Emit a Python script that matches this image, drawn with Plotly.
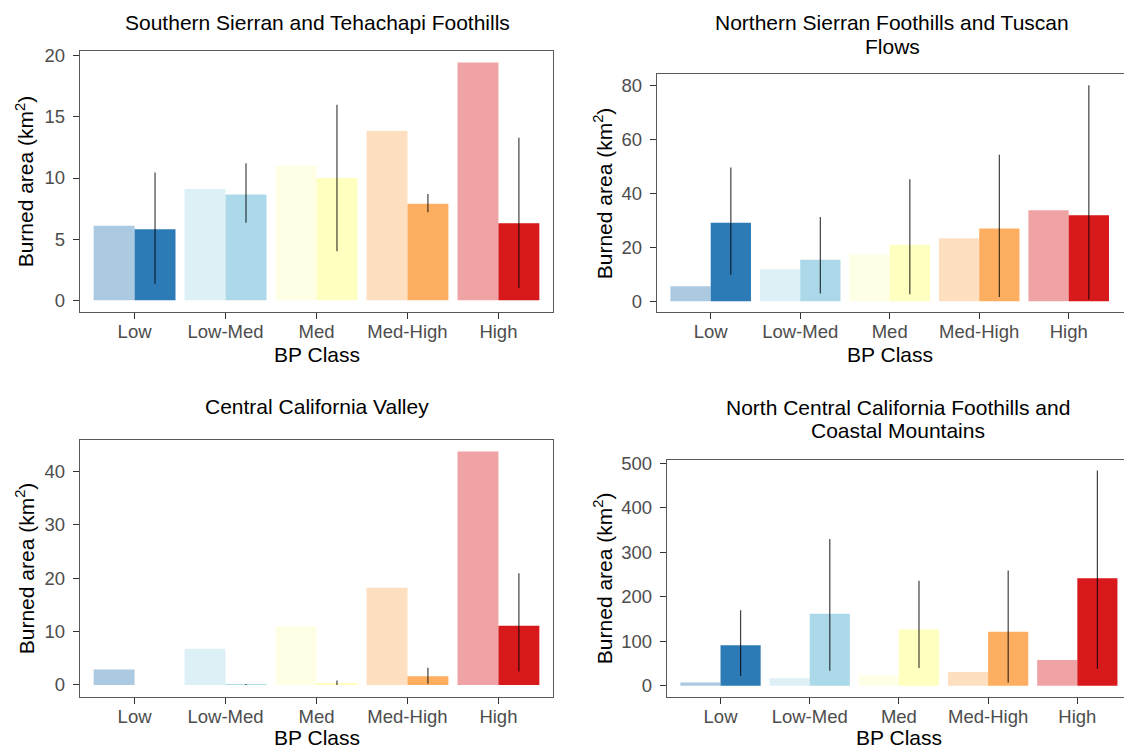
import plotly.graph_objects as go

categories = ["Low", "Low-Med", "Med", "Med-High", "High"]
base_colors = ["#2C7BB6", "#ABD9E9", "#FFFFBF", "#FDAE61", "#D7191C"]
light_alpha = 0.4

titles = [
    ["Southern Sierran and Tehachapi Foothills"],
    ["Northern Sierran Foothills and Tuscan", "Flows"],
    ["Central California Valley"],
    ["North Central California Foothills and", "Coastal Mountains"],
]

# Southern Sierran and Tehachapi Foothills
ss_light = [6.1, 9.1, 11.0, 13.85, 19.45]
ss_dark = [5.8, 8.65, 10.0, 7.9, 6.3]
ss_err_hi = [10.45, 11.2, 16.0, 8.7, 13.3]
ss_err_lo = [1.35, 6.35, 4.0, 7.2, 1.0]

# Northern Sierran Foothills and Tuscan Flows
ns_light = [5.6, 11.9, 17.4, 23.4, 33.8]
ns_dark = [29.2, 15.4, 21.0, 27.0, 31.9]
ns_err_hi = [49.7, 31.3, 45.3, 54.4, 80.2]
ns_err_lo = [9.9, 2.9, 2.6, 1.6, 0.7]

# Central California Valley
cc_light = [2.9, 6.75, 10.95, 18.2, 43.7]
cc_dark = [0.0, 0.06, 0.3, 1.6, 11.1]
cc_err_hi = [None, 0.15, 0.8, 3.2, 20.9]
cc_err_lo = [None, 0.0, 0.0, 0.2, 2.5]

# North Central California Foothills and Coastal Mountains
nc_light = [7.4, 17.0, 23.0, 31.0, 58.0]
nc_dark = [91.0, 162.0, 127.0, 121.5, 242.0]
nc_err_hi = [170.0, 330.0, 236.0, 259.0, 484.0]
nc_err_lo = [22.0, 34.0, 40.0, 7.4, 38.5]

y_dticks = [5, 20, 10, 100]

W, H = 1124, 755
FONT = "Liberation Sans, Arial, sans-serif"


def hex_rgba(h, a):
    h = h.lstrip("#")
    r, g, b = int(h[0:2], 16), int(h[2:4], 16), int(h[4:6], 16)
    return f"rgba({r},{g},{b},{a})"


light_colors = [hex_rgba(c, light_alpha) for c in base_colors]

# panel geometry in pixels
panels = [
    dict(l=80, r=553, t=44, b=308, full_r=553, cx=317, ttl_y=[20], yt_x=25, xt_y=355),
    dict(l=657, r=1124, t=68, b=308, full_r=657 + 5.2 * 89.5, cx=892, ttl_y=[20, 44], yt_x=603, xt_y=355),
    dict(l=80, r=553, t=437, b=696, full_r=553, cx=317, ttl_y=[407], yt_x=25, xt_y=741),
    dict(l=667, r=1124, t=457, b=696, full_r=667 + 5.2 * 89.2, cx=898, ttl_y=[408, 431], yt_x=603, xt_y=741),
]

data = [
    (ss_light, ss_dark, ss_err_hi, ss_err_lo),
    (ns_light, ns_dark, ns_err_hi, ns_err_lo),
    (cc_light, cc_dark, cc_err_hi, cc_err_lo),
    (nc_light, nc_dark, nc_err_hi, nc_err_lo),
]

fig = go.Figure()
annotations = []
TXT_DY = 4  # annotation box centre vs. visual cap centre correction

for i, (p, (lt, dk, ehi, elo), dt) in enumerate(zip(panels, data, y_dticks)):
    n = i + 1
    xa = "x" if n == 1 else f"x{n}"
    ya = "y" if n == 1 else f"y{n}"
    plus = [None if h is None else h - v for h, v in zip(ehi, dk)]
    minus = [None if lo is None else v - lo for lo, v in zip(elo, dk)]
    fig.add_trace(go.Bar(
        x=categories, y=lt, xaxis=xa, yaxis=ya, offsetgroup="a",
        marker=dict(color=light_colors, line=dict(width=0)), showlegend=False,
    ))
    fig.add_trace(go.Bar(
        x=categories, y=dk, xaxis=xa, yaxis=ya, offsetgroup="b",
        marker=dict(color=base_colors, line=dict(width=0)), showlegend=False,
        error_y=dict(type="data", symmetric=False, array=plus, arrayminus=minus,
                     color="rgba(0,0,0,0.75)", thickness=1.2, width=0),
    ))
    vals = lt + dk + [v for v in ehi if v is not None]
    hi = max(vals)
    lo = 0.0
    pad = 0.05 * (hi - lo)
    dom_x = [p["l"] / W, p["r"] / W]
    dom_y = [1 - p["b"] / H, 1 - p["t"] / H]
    right_panel = n in (2, 4)
    # category range: ggplot discrete expansion of 0.6 on each side
    units_per_px = 5.2 / (p["full_r"] - p["l"])
    xmax = -0.6 + (p["r"] - p["l"]) * units_per_px
    axis_common = dict(
        showline=True, linecolor="#5a5a5a", linewidth=1.3,
        ticks="outside", ticklen=6, tickwidth=1.3, tickcolor="#333333",
        tickfont=dict(family=FONT, size=18.5, color="#4D4D4D"),
        showgrid=False, zeroline=False,
    )
    fig.layout[f"xaxis{'' if n == 1 else n}"] = dict(
        axis_common, domain=dom_x, anchor=ya, mirror=True,
        range=[-0.6, xmax], type="category", ticklabelstandoff=-3,
    )
    fig.layout[f"yaxis{'' if n == 1 else n}"] = dict(
        axis_common, domain=dom_y, anchor=xa, mirror=not right_panel,
        range=[lo - pad, hi + pad], dtick=dt, tick0=0, ticklabelstandoff=4,
    )
    # title lines
    for line, ty in zip(titles[i], p["ttl_y"]):
        annotations.append(dict(
            text=line, x=p["cx"] / W, y=1 - (ty - TXT_DY) / H, xref="paper", yref="paper",
            xanchor="center", yanchor="middle", showarrow=False,
            font=dict(family=FONT, size=21, color="#000000"),
        ))
    # y title
    annotations.append(dict(
        text="Burned area (km<sup>2</sup>)", x=p["yt_x"] / W,
        y=1 - (p["t"] + p["b"]) / 2 / H, xref="paper", yref="paper",
        xanchor="center", yanchor="middle", textangle=-90, showarrow=False,
        font=dict(family=FONT, size=21, color="#000000"),
    ))
    # x title
    xcx = (p["l"] + p["full_r"]) / 2
    annotations.append(dict(
        text="BP Class", x=xcx / W, y=1 - (p["xt_y"] - TXT_DY) / H, xref="paper", yref="paper",
        xanchor="center", yanchor="middle", showarrow=False,
        font=dict(family=FONT, size=21, color="#000000"),
    ))

fig.update_layout(
    width=W, height=H, margin=dict(l=0, r=0, t=0, b=0),
    paper_bgcolor="white", plot_bgcolor="white",
    barmode="group", bargap=0.1, bargroupgap=0,
    annotations=annotations,
    font=dict(family=FONT),
)

fig.write_html(
    "out.html",
    config={"displayModeBar": False},
    post_script="document.body.style.margin='0';document.body.style.overflow='hidden';",
)
